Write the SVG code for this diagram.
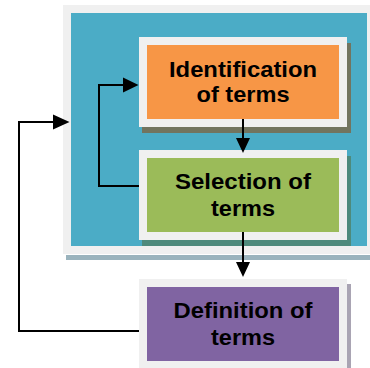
<svg xmlns="http://www.w3.org/2000/svg" width="370" height="368" viewBox="0 0 370 368">
<defs>
<style>
.t{font-family:"Liberation Sans",Arial,sans-serif;font-weight:bold;font-size:22px;fill:#000;text-anchor:middle}
.c{fill:none;stroke:#000;stroke-width:2}
.frame{fill:#f0f0f0}
</style>
</defs>
<rect width="370" height="368" fill="#fff"/>
<g id="panel">
<rect x="66" y="255" width="304" height="5" fill="#9ab3bd"/>
<rect class="frame" x="63" y="5" width="307" height="249"/>
<rect x="71" y="13" width="296" height="233" fill="#4bacc6"/>
</g>
<g id="identification">
<rect x="142" y="43" width="209" height="90" fill="#72745f"/>
<rect class="frame" x="139" y="37" width="208" height="90"/>
<rect x="147" y="45" width="192" height="74" fill="#f79646"/>
<text class="t" x="243" y="76.5" textLength="148" lengthAdjust="spacingAndGlyphs">Identification</text>
<text class="t" x="243" y="102" textLength="93" lengthAdjust="spacingAndGlyphs">of terms</text>
</g>
<g id="selection">
<rect x="142" y="156" width="209" height="90" fill="#4e8a7c"/>
<rect class="frame" x="139" y="150" width="208" height="90"/>
<rect x="147" y="158" width="192" height="74" fill="#9bbb59"/>
<text class="t" x="243" y="188.5" textLength="136" lengthAdjust="spacingAndGlyphs">Selection of</text>
<text class="t" x="243" y="216" textLength="64" lengthAdjust="spacingAndGlyphs">terms</text>
</g>
<g id="definition">
<rect x="347" y="284" width="4" height="84" fill="#a9a4b3"/>
<rect class="frame" x="139" y="279" width="208" height="89"/>
<rect x="147" y="287" width="192" height="74" fill="#8064a2"/>
<text class="t" x="243" y="317.5" textLength="139" lengthAdjust="spacingAndGlyphs">Definition of</text>
<text class="t" x="243" y="345" textLength="64" lengthAdjust="spacingAndGlyphs">terms</text>
</g>
<g id="connectors">
<path class="c" d="M243,119 V138"/>
<path d="M236,138 L250,138 L243,153 z"/>
<path class="c" d="M243,232 V262"/>
<path d="M236,262 L250,262 L243,277 z"/>
<path class="c" d="M139,186 H99 V85 H124"/>
<path d="M123,77.5 L138.5,85 L123,92.5 z"/>
<path class="c" d="M139,331 H19 V122 H54"/>
<path d="M53,114.5 L69.5,122 L53,129.5 z"/>
</g>
</svg>
